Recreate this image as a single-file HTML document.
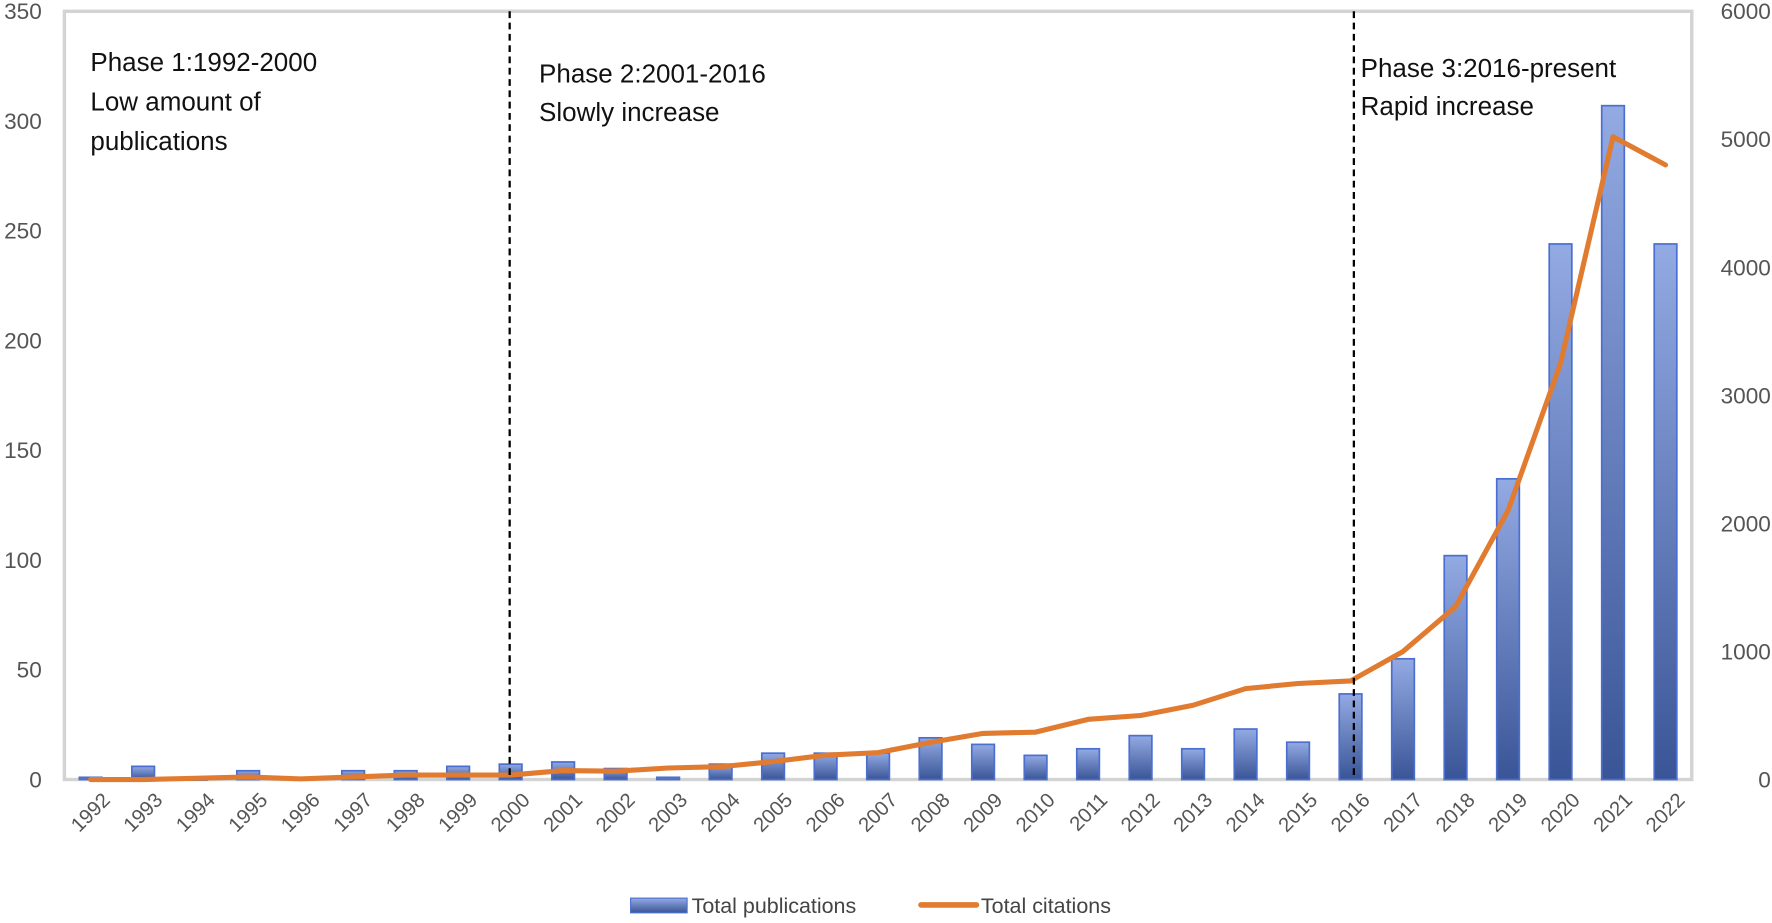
<!DOCTYPE html>
<html><head><meta charset="utf-8"><style>
html,body{margin:0;padding:0;background:#fff;}
svg{display:block;font-family:"Liberation Sans",sans-serif;}
</style></head><body>
<svg id="chart" width="1772" height="923" viewBox="0 0 1568 817" preserveAspectRatio="none">
<defs>
<linearGradient id="barg" x1="0" y1="0" x2="0" y2="1">
<stop offset="0" stop-color="#93aae3"/><stop offset="1" stop-color="#3a5597"/>
</linearGradient>
</defs>
<rect x="57" y="10" width="1440" height="680" fill="none" stroke="#d3d3d3" stroke-width="3"/>
<g id="ylabels"></g>
<g id="bars"></g>
<g id="line"></g>
<g id="xlabels"></g>
<line x1="451" y1="10" x2="451" y2="690" stroke="#000" stroke-width="2" stroke-dasharray="6,4"/>
<line x1="1198" y1="10" x2="1198" y2="690" stroke="#000" stroke-width="2" stroke-dasharray="6,4"/>
<g font-size="23" fill="#111">
<text x="80" y="63">Phase 1:1992-2000</text>
<text x="80" y="98">Low amount of</text>
<text x="80" y="133">publications</text>
<text x="477" y="73">Phase 2:2001-2016</text>
<text x="477" y="107">Slowly increase</text>
<text x="1204" y="68">Phase 3:2016-present</text>
<text x="1204" y="102">Rapid increase</text>
</g>
<g font-size="19" fill="#444">
<rect x="558" y="795" width="50" height="13" fill="url(#barg)" stroke="#4a6fd0" stroke-width="1"/>
<text x="612" y="808">Total publications</text>
<line x1="815" y1="801" x2="864" y2="801" stroke="#e07b30" stroke-width="5" stroke-linecap="round"/>
<text x="868" y="808">Total citations</text>
</g>
</svg>
<script>
const years = [1992,1993,1994,1995,1996,1997,1998,1999,2000,2001,2002,2003,2004,2005,2006,2007,2008,2009,2010,2011,2012,2013,2014,2015,2016,2017,2018,2019,2020,2021,2022];
const publications = [1,6,0,4,0,4,4,6,7,8,5,1,7,12,12,12,19,16,11,14,20,14,23,17,39,55,102,137,244,307,244];
const citations = [0,0,10,20,5,20,35,35,35,70,65,90,100,140,190,210,290,360,370,470,500,580,710,750,770,1000,1350,2100,3250,5020,4800];
const leftTicks = [0,50,100,150,200,250,300,350];
const rightTicks = [0,1000,2000,3000,4000,5000,6000];

const NS = "http://www.w3.org/2000/svg";
const X0 = 57, W = 1440, TOP = 10, BOT = 690;
const step = W / years.length;
const xPos = i => X0 + step * (i + 0.5);
const yLeft = v => BOT - (v / 350) * (BOT - TOP);
const yRight = v => BOT - (v / 6000) * (BOT - TOP);
function mk(tag, attrs, parent) {
  const e = document.createElementNS(NS, tag);
  for (const k in attrs) e.setAttribute(k, attrs[k]);
  parent.appendChild(e);
  return e;
}
const gy = document.getElementById('ylabels');
leftTicks.forEach(t => {
  const e = mk('text', {x: 37, y: yLeft(t) + 7, 'text-anchor': 'end', 'font-size': 20, fill: '#555'}, gy);
  
  
  e.textContent = t;
});
rightTicks.forEach(t => {
  const e = mk('text', {x: 1567, y: yRight(t) + 7, 'text-anchor': 'end', 'font-size': 20, fill: '#555'}, gy);
  
  
  e.textContent = t;
});
const gb = document.getElementById('bars');
publications.forEach((v, i) => {
  const y = yLeft(v);
  const r = mk('rect', {x: xPos(i) - 10, y: y, width: 20, height: Math.max(BOT - y, 0.5), fill: 'url(#barg)', stroke: '#4a6fd0', 'stroke-width': 1.5}, gb);
  
  
});
const gl = document.getElementById('line');
const pts = citations.map((v, i) => xPos(i) + ',' + yRight(v)).join(' ');
const pl = mk('polyline', {points: pts, fill: 'none', stroke: '#e07b30', 'stroke-width': 4.5, 'stroke-linejoin': 'round', 'stroke-linecap': 'round'}, gl);


const gx = document.getElementById('xlabels');
years.forEach((yr, i) => {
  const x = xPos(i) + 9, y = 700;
  const t = mk('text', {x: x, y: y, 'text-anchor': 'end', 'font-size': 18, fill: '#555', transform: 'rotate(-45 ' + x + ' ' + y + ')', dy: '13'}, gx);
  
  
  t.textContent = yr;
});
</script>
</body></html>
